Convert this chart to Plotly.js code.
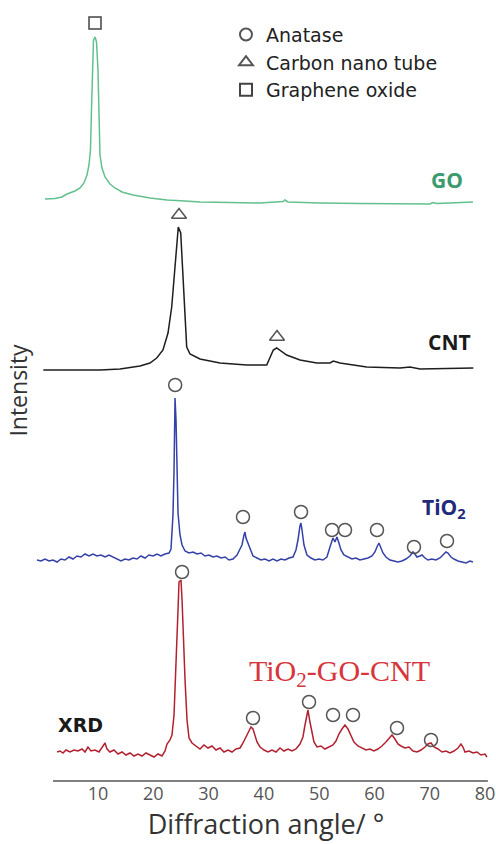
<!DOCTYPE html>
<html>
<head>
<meta charset="utf-8">
<script src="https://cdn.plot.ly/plotly-3.0.1.min.js"></script>
<style>html,body{margin:0;padding:0;background:#fff;}#chart{width:496px;height:844px;}</style>
</head>
<body>
<div id="chart"></div>
<script>
// ---- Data (diffraction angle in degrees, intensity in arbitrary units above each trace's baseline) ----
const goAngle = [0.42,2.22,3.49,4.39,5.84,6.75,7.47,8.01,8.37,8.64,8.82,9.0,9.19,9.46,9.73,10.0,10.18,10.36,10.72,11.27,12.17,13.07,14.34,16.33,19.4,22.48,25.73,28.44,33.87,39.3,43.45,43.81,44.36,50.14,57.37,64.6,70.02,70.56,71.28,77.8];
const goIntensity = [1,1.5,3,6,9,12,17,25,35,50,90,140,160,163,158,130,70,45,32,23,16,12,8,5,2,0,-1,-2,-2.5,-3,-1.5,0,-2,-3,-3.5,-4,-4,-2.5,-3.5,-2];

const cntAngle = [0.11,4.94,10.36,13.98,17.6,19.4,20.62,21.75,22.66,23.33,23.62,24.1,24.52,24.96,25.32,25.61,26.04,26.64,28.44,32.06,36.89,40.51,41.1,41.7,42.31,44.12,46.53,49.55,51.95,52.55,53.76,58.59,64.61,66.42,68.23,77.87];
const cntIntensity = [0,0,0,1,4,7,12,20,37,63,83,110,143,137,103,70,23,16,11,7,5,5,13,20,22,15,10,7,7,9,7,3,2,3,1,2];

const tioAngle = [-1.03,-0.31,0.42,1.14,1.86,2.59,3.31,4.03,4.76,5.48,6.2,6.93,7.65,8.37,9.1,9.82,10.54,11.27,11.99,12.71,13.43,14.16,14.88,15.6,16.33,17.05,17.77,18.5,19.22,19.95,20.67,21.39,22.12,22.84,23.2,23.56,23.75,23.93,24.11,24.29,24.47,24.83,25.2,25.74,26.46,27.19,27.91,28.63,29.35,30.08,30.8,31.52,32.25,32.97,33.69,34.41,35.14,35.68,36.04,36.4,36.58,36.76,37.12,37.48,38.03,38.75,39.47,40.2,40.92,41.64,42.37,43.09,43.81,44.53,45.26,45.8,46.16,46.52,46.7,46.89,47.25,47.79,48.51,49.23,49.96,50.68,51.4,51.95,52.49,52.85,53.21,53.57,53.94,54.48,55.2,55.92,56.65,57.37,58.09,58.82,59.54,60.08,60.44,60.8,61.17,61.53,62.07,62.79,63.52,64.24,64.96,65.69,66.41,66.95,67.31,67.67,68.22,68.58,69.13,69.67,70.39,71.11,71.84,72.38,72.92,73.29,73.83,74.37,75.09,75.82,76.54,77.26,77.8];
const tioIntensity = [2,1,3,1,2,0,3,2,5,3,6,5,8,6,8,6,7,5,7,5,3,1,3,2,4,3,6,4,7,6,8,6,8,9,13,47,92,164,142,92,49,27,17,11,9,10,8,9,6,7,5,6,4,5,2,3,7,13,17,27,30,24,19,12,6,4,2,3,1,3,1,3,2,4,5,12,22,36,39,32,17,7,4,2,3,2,5,15,24,20,25,19,12,7,5,3,4,2,3,4,6,10,15,19,14,9,5,2,1,0,1,3,6,10,8,5,6,7,4,2,3,2,4,7,10,9,5,3,1,0,-1,1,0];

const compAngle = [2.59,3.13,3.67,4.21,4.94,5.66,6.38,7.11,7.65,8.19,8.73,9.46,10.18,10.73,11.27,11.63,12.17,12.89,13.62,14.34,15.06,15.79,16.51,17.23,17.96,18.68,19.4,20.13,20.85,21.57,22.12,22.48,23.02,23.38,23.75,24.11,24.47,24.65,25.01,25.2,25.38,25.74,26.1,26.46,27.0,27.72,28.44,29.17,29.89,30.61,31.34,32.06,32.78,33.51,34.23,34.95,35.68,36.22,36.76,37.3,37.66,38.03,38.39,38.75,39.3,40.02,40.74,41.46,42.19,42.91,43.63,44.36,45.08,45.8,46.52,47.06,47.43,47.79,47.97,48.33,48.69,49.05,49.6,50.32,51.04,51.77,52.49,53.03,53.57,54.12,54.66,55.2,55.74,56.28,57.0,57.73,58.45,59.17,59.89,60.62,61.34,62.07,62.61,63.16,63.7,64.24,64.79,65.51,66.24,66.96,67.69,68.41,69.13,69.67,70.22,70.76,71.48,72.21,72.93,73.65,74.37,75.1,75.64,76.0,76.36,77.08,77.8,78.53,79.25,79.97,80.33];
const compIntensity = [3,4,2,5,3,5,4,6,3,8,4,5,3,7,12,6,3,5,1,3,0,2,-1,1,-1,2,0,-2,1,-1,4,11,15,20,40,85,145,173,175,155,125,75,35,17,12,9,6,10,7,9,5,7,3,5,3,6,7,12,18,24,28,26,20,13,8,5,3,5,3,7,4,6,4,6,11,18,30,42,45,33,22,13,8,9,6,8,10,14,21,26,30,26,19,13,9,7,5,6,4,6,9,13,17,20,16,11,9,7,8,4,3,5,8,11,12,8,6,3,4,2,4,7,11,8,3,4,2,3,0,1,-2];

// peak markers (angle, height above baseline)
const anataseTiAngle = [23.96,36.22,46.71,52.32,54.67,60.45,67.14,73.11];
const anataseTiHeight = [177,45,50,32,32,32,15,21];
const anataseCompAngle = [25.2,38.03,48.16,52.5,56.11,64.07,70.22];
const anataseCompHeight = [183,37,53,40,40,27,15];
const cntMarkAngle = [24.65,42.37];
const cntMarkHeight = [155,33];
const goMarkAngle = [9.46];
const goMarkHeight = [177];

const tickValues = [10,20,30,40,50,60,70,80];
const tickLabels = ['10','20','30','40','50','60','70','80'];
const seriesNames = ['GO','CNT','TiO<sub>2</sub>','TiO<sub>2</sub>-GO-CNT'];
const legendNames = ['Anatase','Carbon nano tube','Graphene oxide'];

// vertical stacking offsets
const offsets = {go:581, cnt:411, tio:219, comp:26};
const shift = (arr, off) => arr.map(v => v + off);

const lineW = 1.5;
const traces = [
  {x: goAngle, y: shift(goIntensity, offsets.go), mode:'lines', line:{color:'#62c08e', width:lineW}, showlegend:false, name:'GO'},
  {x: cntAngle, y: shift(cntIntensity, offsets.cnt), mode:'lines', line:{color:'#1e1e1e', width:lineW}, showlegend:false, name:'CNT'},
  {x: tioAngle, y: shift(tioIntensity, offsets.tio), mode:'lines', line:{color:'#3441a8', width:lineW}, showlegend:false, name:'TiO2'},
  {x: compAngle, y: shift(compIntensity, offsets.comp), mode:'lines', line:{color:'#b3202f', width:lineW}, showlegend:false, name:'TiO2-GO-CNT'},
  {x: anataseTiAngle.concat(anataseCompAngle),
   y: shift(anataseTiHeight, offsets.tio).concat(shift(anataseCompHeight, offsets.comp)),
   mode:'markers', name: legendNames[0], marker:{symbol:'circle-open', size:13, color:'#555', line:{width:1.5, color:'#555'}}},
  {x: cntMarkAngle, y: shift(cntMarkHeight, offsets.cnt), mode:'markers', name: legendNames[1],
   marker:{symbol:'triangle-up-open', size:13, color:'#555', line:{width:1.5, color:'#555'}}},
  {x: goMarkAngle, y: shift(goMarkHeight, offsets.go), mode:'markers', name: legendNames[2],
   marker:{symbol:'square-open', size:12, color:'#444', line:{width:1.5, color:'#444'}}}
];

const layout = {
  width: 496, height: 844,
  margin: {l:36, r:0, t:0, b:63},
  paper_bgcolor:'#fff', plot_bgcolor:'#fff',
  showlegend: true,
  legend: {x:0.413, y:0.980, xanchor:'left', yanchor:'top', bgcolor:'rgba(0,0,0,0)',
           font:{family:'DejaVu Sans', size:19, color:'#222'}, traceorder:'normal', tracegroupgap:0,
           itemsizing:'constant'},
  xaxis: {range:[-1.21, 81.97], tickvals: tickValues, ticktext: tickLabels, showgrid:false, zeroline:false,
          showline:false, ticks:'', tickfont:{family:'Open Sans', size:18, color:'#555'},
          title:{text:'Diffraction angle/ °', font:{family:'Open Sans', size:27, color:'#333'}, standoff:8}},
  yaxis: {range:[0, 781], showgrid:false, zeroline:false, showline:false, showticklabels:false, ticks:'',
          title:{text:'Intensity', font:{family:'Open Sans', size:23, color:'#333'}, standoff:0}},
  shapes: [{type:'line', xref:'x', yref:'paper', x0:1.86, x1:80.5, y0:0, y1:0, line:{color:'#555', width:1.5}}],
  annotations: [
    {x:73.1, y:601, xref:'x', yref:'y', text:'<b>'+seriesNames[0]+'</b>', showarrow:false, font:{family:'Open Sans', size:21, color:'#3b9b6e'}},
    {x:73.5, y:439, xref:'x', yref:'y', text:'<b>'+seriesNames[1]+'</b>', showarrow:false, font:{family:'Open Sans', size:21, color:'#1a1a1a'}},
    {x:72.6, y:273, xref:'x', yref:'y', text:'<b>'+seriesNames[2]+'</b>', showarrow:false, font:{family:'Open Sans', size:21, color:'#1f2a7a'}},
    {x:53.6, y:108, xref:'x', yref:'y', text:seriesNames[3], showarrow:false, font:{family:'Liberation Serif', size:30, color:'#d8343c'}},
    {x:6.75, y:56, xref:'x', yref:'y', text:'<b>XRD</b>', showarrow:false, font:{family:'DejaVu Sans', size:19, color:'#1a1a1a'}}
  ]
};

Plotly.newPlot('chart', traces, layout, {displayModeBar:false, staticPlot:true});
</script>
</body>
</html>
